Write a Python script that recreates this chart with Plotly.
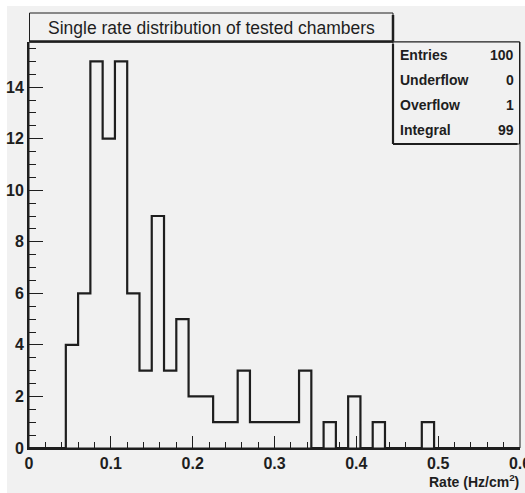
import numpy as np
import plotly.graph_objects as go

# Histogram: 40 bins of width 0.015 Hz/cm^2 between 0 and 0.6
x_min, x_max, n_bins = 0.0, 0.6, 40
counts = [0, 0, 0, 4, 6, 15, 12, 15, 6, 3,
          9, 3, 5, 2, 2, 1, 1, 3, 1, 1,
          1, 1, 3, 0, 1, 0, 2, 0, 1, 0,
          0, 0, 1, 0, 0, 0, 0, 0, 0, 0]
stat_names = ["Entries", "Underflow", "Overflow", "Integral"]
stat_values = ["100", "0", "1", "99"]
x_ticks = [0, 0.1, 0.2, 0.3, 0.4, 0.5, 0.6]
y_ticks = [0, 2, 4, 6, 8, 10, 12, 14]
title_text = "Single rate distribution of tested chambers"
x_title = "Rate (Hz/cm<sup>2</sup>)"

W, H = 525, 493
ML, MR, MT, MB = 29, 5, 42, 45
PW, PH = W - ML - MR, H - MT - MB
BG = "#f1f1f1"
INK = "#1e1e1e"
FONT = "Liberation Sans, Arial, Helvetica, sans-serif"


def px(xp):
    return (xp - ML) / PW


def py(yp):
    return (H - MB - yp) / PH


edges = np.linspace(x_min, x_max, n_bins + 1)
step_y = list(counts) + [counts[-1]]

fig = go.Figure()
fig.add_trace(go.Scatter(
    x=edges, y=step_y, mode="lines", line_shape="hv",
    line=dict(color=INK, width=2.2), hoverinfo="skip", showlegend=False,
))

shapes = []
# canvas background
shapes.append(dict(type="rect", xref="paper", yref="paper", layer="below",
                   x0=px(7), x1=px(W + 5), y0=py(6), y1=py(H + 5),
                   fillcolor=BG, line=dict(width=0)))
# thin frame on top and right
shapes.append(dict(type="rect", xref="paper", yref="paper",
                   x0=0, x1=1, y0=0, y1=1, line=dict(color=INK, width=1)))

# title box with shadow on right/bottom
tx0, tx1, ty0, ty1 = 29.5, 393, 13, 41.5
shapes.append(dict(type="rect", xref="paper", yref="paper",
                   x0=px(tx0), x1=px(tx1), y0=py(ty1), y1=py(ty0),
                   fillcolor=BG, line=dict(color=INK, width=1)))
shapes.append(dict(type="line", xref="paper", yref="paper",
                   x0=px(tx1), x1=px(tx1), y0=py(ty1), y1=py(ty0 + 2),
                   line=dict(color=INK, width=2.5)))
shapes.append(dict(type="line", xref="paper", yref="paper",
                   x0=px(tx0), x1=px(tx1), y0=py(ty1), y1=py(ty1),
                   line=dict(color=INK, width=2.5)))

# statistics box with shadow on left/bottom
sx0, sx1, sy0, sy1 = 393, 519.5, 42, 144
shapes.append(dict(type="rect", xref="paper", yref="paper",
                   x0=px(sx0), x1=px(sx1), y0=py(sy1), y1=py(sy0),
                   fillcolor=BG, line=dict(color=INK, width=1)))
shapes.append(dict(type="line", xref="paper", yref="paper",
                   x0=px(sx0), x1=px(sx0), y0=py(sy1), y1=py(sy0 + 2),
                   line=dict(color=INK, width=2.2)))
shapes.append(dict(type="line", xref="paper", yref="paper",
                   x0=px(sx0), x1=px(sx1 - 2), y0=py(sy1), y1=py(sy1),
                   line=dict(color=INK, width=2.2)))

annotations = [
    dict(text=title_text, xref="paper", yref="paper",
         x=px((tx0 + tx1) / 2), y=py((ty0 + ty1) / 2 + 0.5),
         showarrow=False, xanchor="center", yanchor="middle",
         font=dict(family=FONT, size=17.5, color=INK)),
    dict(text=x_title, xref="paper", yref="paper",
         x=px(521), y=py(481), showarrow=False,
         xanchor="right", yanchor="middle",
         font=dict(family=FONT, size=14, color=INK, weight="bold")),
]
row_y = [55, 80, 105, 130]
for name, val, ry in zip(stat_names, stat_values, row_y):
    annotations.append(dict(text=name, xref="paper", yref="paper",
                            x=px(398), y=py(ry), showarrow=False,
                            xanchor="left", yanchor="middle",
                            font=dict(family=FONT, size=14, color=INK,
                                      weight="bold")))
    annotations.append(dict(text=val, xref="paper", yref="paper",
                            x=px(516), y=py(ry), showarrow=False,
                            xanchor="right", yanchor="middle",
                            font=dict(family=FONT, size=14, color=INK,
                                      weight="bold")))

fig.update_layout(
    width=W, height=H,
    margin=dict(l=ML, r=MR, t=MT, b=MB, pad=0, autoexpand=False),
    paper_bgcolor="white", plot_bgcolor=BG,
    font=dict(family=FONT, color=INK),
    shapes=shapes, annotations=annotations,
    xaxis=dict(range=[x_min, x_max], tickvals=x_ticks,
               ticktext=[f"{v:g}" for v in x_ticks],
               automargin=False, ticklabeloverflow="allow",
               ticks="inside", ticklen=12, tickwidth=1, tickcolor=INK,
               minor=dict(dtick=0.02, tick0=0, ticks="inside", ticklen=6,
                          tickcolor=INK, tickwidth=1, showgrid=False),
               showline=True, linecolor=INK, linewidth=2, mirror=False,
               showgrid=False, zeroline=False,
               tickfont=dict(family=FONT, size=16, color=INK, weight="bold")),
    yaxis=dict(range=[0, 15.75], tickvals=y_ticks,
               automargin=False, ticklabeloverflow="allow",
               ticks="inside", ticklen=14, tickwidth=1, tickcolor=INK,
               minor=dict(dtick=0.5, tick0=0, ticks="inside", ticklen=7,
                          tickcolor=INK, tickwidth=1, showgrid=False),
               showline=True, linecolor=INK, linewidth=2, mirror=False,
               showgrid=False, zeroline=False,
               tickfont=dict(family=FONT, size=16, color=INK, weight="bold")),
)

fig.write_html("out.html")
